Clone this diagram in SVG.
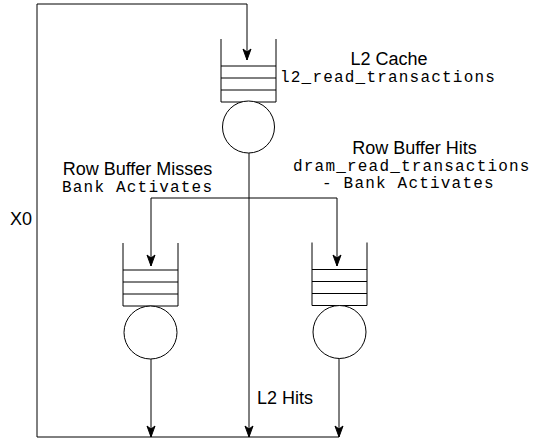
<svg xmlns="http://www.w3.org/2000/svg" width="537" height="440" viewBox="0 0 537 440">
  <style>
    .ln { fill: none; stroke: #000; stroke-width: 1; }
    .q { fill: #fff; stroke: #000; stroke-width: 1; }
    .sans { font-family: "Liberation Sans", Arial, Helvetica, sans-serif; font-size: 18px; fill: #000; }
    .mono { font-family: "Liberation Mono", "Courier New", monospace; font-size: 16px; letter-spacing: 1.2px; fill: #000; }
  </style>
  <defs>
    <marker id="arrow" viewBox="-12 -5 13 10" refX="0" refY="0" markerWidth="13" markerHeight="10" markerUnits="userSpaceOnUse" orient="auto">
      <path d="M0,0 L-11,-4 L-8,0 L-11,4 Z" fill="#000" stroke="#000" stroke-width="1"/>
    </marker>
    <!-- queue: open box with three slots above the server circle -->
    <g id="queueShape">
      <path class="ln" d="M0,0 V63 H55 V0"/>
      <line class="ln" x1="0" y1="27" x2="55" y2="27"/>
      <line class="ln" x1="0" y1="39" x2="55" y2="39"/>
      <line class="ln" x1="0" y1="51" x2="55" y2="51"/>
    </g>
  </defs>

  <rect width="537" height="440" fill="#fff"/>

  <g id="connectors">
    <!-- feedback loop X0 -->
    <path class="ln" d="M339,437 H37 V4 H247 V60" marker-end="url(#arrow)"/>
    <!-- L2 hits path -->
    <path class="ln" d="M249,153 V437" marker-end="url(#arrow)"/>
    <!-- row buffer branch -->
    <path class="ln" d="M249,198 H151 V266" marker-end="url(#arrow)"/>
    <path class="ln" d="M249,198 H337 V266" marker-end="url(#arrow)"/>
    <!-- bank outputs -->
    <path class="ln" d="M151,359 V437" marker-end="url(#arrow)"/>
    <path class="ln" d="M339,358 V437" marker-end="url(#arrow)"/>
  </g>

  <g id="l2cache">
    <use href="#queueShape" x="221" y="39"/>
    <circle class="q" cx="248.5" cy="127" r="26"/>
    <text class="sans" x="389" y="65" text-anchor="middle">L2 Cache</text>
    <text class="mono" x="280" y="82">l2_read_transactions</text>
  </g>

  <g id="rowMiss">
    <use href="#queueShape" x="123" y="243"/>
    <circle class="q" cx="150.5" cy="332.5" r="26.5"/>
    <text class="sans" x="137.5" y="175" text-anchor="middle">Row Buffer Misses</text>
    <text class="mono" x="62" y="192">Bank Activates</text>
  </g>

  <g id="rowHit">
    <use href="#queueShape" x="312" y="242.5"/>
    <circle class="q" cx="339.5" cy="332" r="26.5"/>
    <text class="sans" x="414.5" y="154" text-anchor="middle">Row Buffer Hits</text>
    <text class="mono" x="293" y="171">dram_read_transactions</text>
    <text class="mono" x="322" y="188">- Bank Activates</text>
  </g>

  <g id="labels">
    <text class="sans" x="10" y="225">X0</text>
    <text class="sans" x="257" y="404">L2 Hits</text>
  </g>
</svg>
